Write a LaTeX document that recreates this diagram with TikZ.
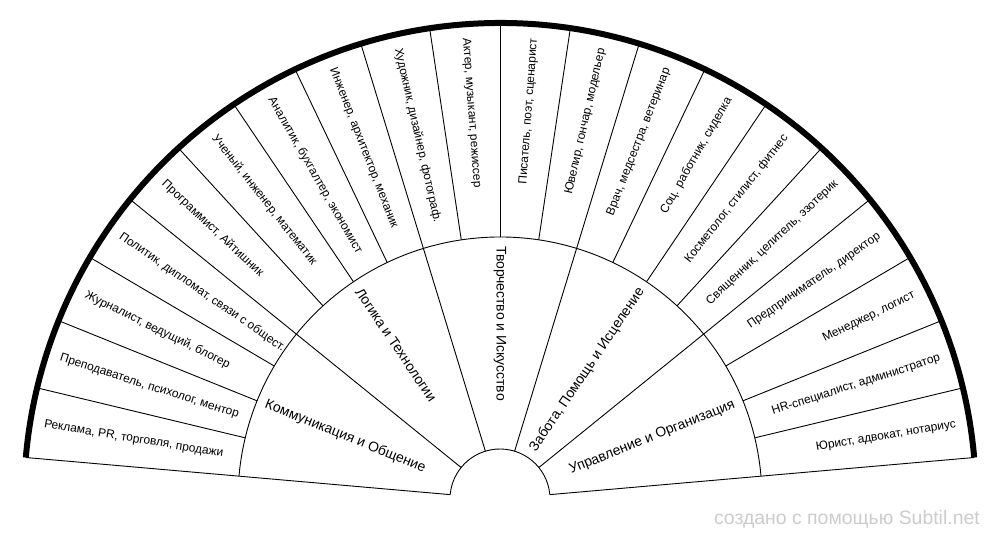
\documentclass[tikz,border=0pt]{standalone}
\usepackage{fontspec}
\setmainfont{Liberation Sans}
\definecolor{wmgrey}{RGB}{204,204,204}
\begin{document}
\begin{tikzpicture}[x=1bp,y=1bp,
  seg/.style={draw=black,line width=0.9bp},
  rim/.style={draw=black,line width=6bp},
  olab/.style={inner sep=0pt,font=\fontsize{12}{14}\selectfont},
  clab/.style={inner sep=0pt,font=\fontsize{14}{16}\selectfont},
  wmark/.style={inner sep=0pt,text=wmgrey,font=\fontsize{19.5}{22}\selectfont}]
\useasboundingbox (-500,-41) rectangle (500,499);
% frame of the fan
\draw[seg] (5:50) -- (5:476);
\draw[seg] (175:50) -- (175:476);
\draw[seg] (5:50) arc[start angle=5,end angle=175,radius=50];
\draw[seg] (5:262) arc[start angle=5,end angle=175,radius=262];
\foreach \k in {1,...,19}{
  \pgfmathsetmacro{\ang}{175-8.5*\k}
  \pgfmathtruncatemacro{\md}{mod(\k,4)}
  \ifnum\md=0
    \draw[seg] (\ang:50) -- (\ang:476);
  \else
    \draw[seg] (\ang:262) -- (\ang:476);
  \fi
}
\draw[rim] (5:476) arc[start angle=5,end angle=175,radius=476];
% outer labels, left half
\foreach \i/\t in {0/{Реклама, PR, торговля, продажи},
                   1/{Преподаватель, психолог, ментор},
                   2/{Журналист, ведущий, блогер},
                   3/{Политик, дипломат, связи с общест.},
                   4/{Программист, Айтишник},
                   5/{Ученый, инженер, математик},
                   6/{Аналитик, бухгалтер, экономист},
                   7/{Инженер, архитектор, механик},
                   8/{Художник, дизайнер, фотограф.},
                   9/{Актер, музыкант, режиссер}}{
  \pgfmathsetmacro{\ang}{170.75-8.5*\i}
  \pgfmathsetmacro{\rot}{\ang-180}
  \node[olab,anchor=west,rotate=\rot] (o\i) at (\ang:462) {\t};
}
% outer labels, right half
\foreach \i/\t in {10/{Писатель, поэт, сценарист},
                   11/{Ювелир, гончар, модельер},
                   12/{Врач, медсестра, ветеринар},
                   13/{Соц. работник, сиделка},
                   14/{Косметолог, стилист, фитнес},
                   15/{Священник, целитель, эзотерик},
                   16/{Предприниматель, директор},
                   17/{Менеджер, логист},
                   18/{HR-специалист, администратор},
                   19/{Юрист, адвокат, нотариус}}{
  \pgfmathsetmacro{\ang}{170.75-8.5*\i}
  \node[olab,anchor=east,rotate=\ang] (o\i) at (\ang:462) {\t};
}
% category labels
\node[clab,anchor=west,rotate=-22] (c0) at (158:253) {Коммуникация и Общение};
\node[clab,anchor=west,rotate=-56] (c1) at (124:253) {Логика и Технологии};
\node[clab,anchor=west,rotate=-90] (c2) at (90:253) {Творчество и Искусство};
\node[clab,anchor=east,rotate=56] (c3) at (56:253) {Забота, Помощь и Исцеление};
\node[clab,anchor=east,rotate=22] (c4) at (22:253) {Управление и Организация};
% watermark
\node[wmark,anchor=base east] (wm) at (480,-26) {создано с помощью Subtil.net};
\end{tikzpicture}
\end{document}
